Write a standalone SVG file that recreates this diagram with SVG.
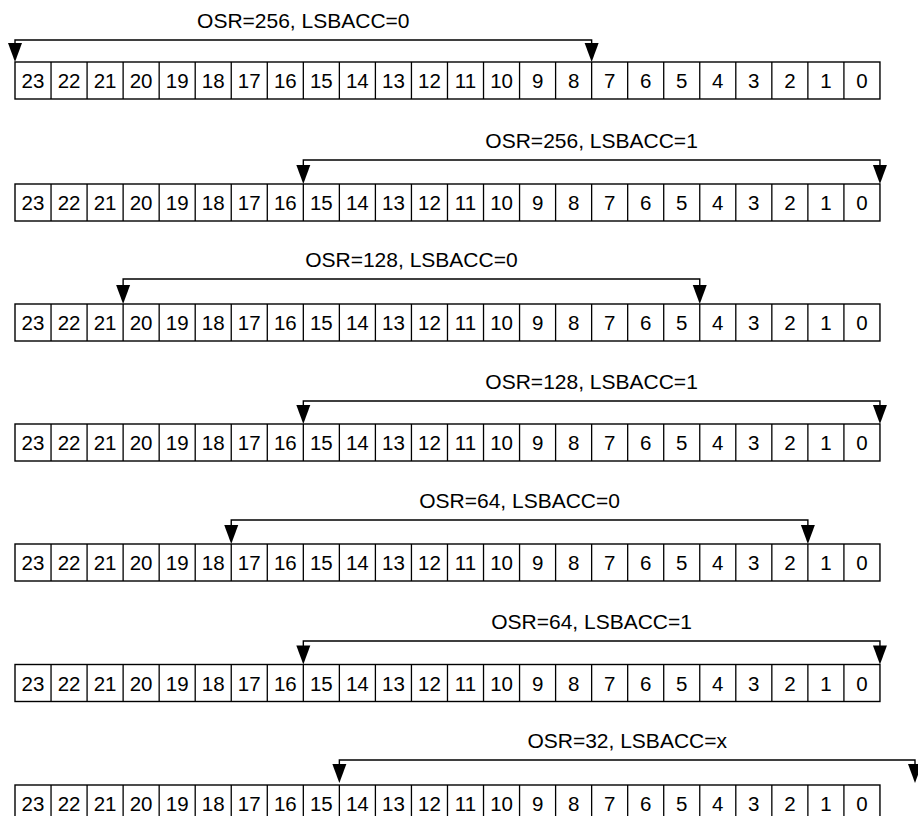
<svg xmlns="http://www.w3.org/2000/svg" width="918" height="816" viewBox="0 0 918 816">
<style>
.box{fill:#fff;stroke:#000;stroke-width:1.4}
.div{fill:none;stroke:#000;stroke-width:1.3}
.d{font-family:"Liberation Sans",Arial,sans-serif;font-size:20.5px;text-anchor:middle;fill:#000}
.lbl{font-family:"Liberation Sans",Arial,sans-serif;font-size:21px;text-anchor:middle;fill:#000}
.ln{fill:none;stroke:#000;stroke-width:1.4}
.hd{fill:#000;stroke:none}
</style>
<defs>
<path id="dv" d="M51.04 0v37M87.08 0v37M123.12 0v37M159.16 0v37M195.2 0v37M231.24 0v37M267.28 0v37M303.32 0v37M339.36 0v37M375.4 0v37M411.44 0v37M447.48 0v37M483.52 0v37M519.56 0v37M555.6 0v37M591.64 0v37M627.68 0v37M663.72 0v37M699.76 0v37M735.8 0v37M771.84 0v37M807.88 0v37M843.92 0v37"/>
<path id="ah" d="M-7,-19 L7,-19 L0,0 z"/>
</defs>

<g id="row1" transform="translate(0,62)">
<rect class="box" x="15" y="0" width="864.96" height="37"/>
<use href="#dv" class="div"/>
<text class="d" y="26"><tspan x="33.02">23</tspan><tspan x="69.06">22</tspan><tspan x="105.1">21</tspan><tspan x="141.14">20</tspan><tspan x="177.18">19</tspan><tspan x="213.22">18</tspan><tspan x="249.26">17</tspan><tspan x="285.3">16</tspan><tspan x="321.34">15</tspan><tspan x="357.38">14</tspan><tspan x="393.42">13</tspan><tspan x="429.46">12</tspan><tspan x="465.5">11</tspan><tspan x="501.54">10</tspan><tspan x="537.58">9</tspan><tspan x="573.62">8</tspan><tspan x="609.66">7</tspan><tspan x="645.7">6</tspan><tspan x="681.74">5</tspan><tspan x="717.78">4</tspan><tspan x="753.82">3</tspan><tspan x="789.86">2</tspan><tspan x="825.9">1</tspan><tspan x="861.94">0</tspan></text>
</g>

<g id="row2" transform="translate(0,184)">
<rect class="box" x="15" y="0" width="864.96" height="37"/>
<use href="#dv" class="div"/>
<text class="d" y="26"><tspan x="33.02">23</tspan><tspan x="69.06">22</tspan><tspan x="105.1">21</tspan><tspan x="141.14">20</tspan><tspan x="177.18">19</tspan><tspan x="213.22">18</tspan><tspan x="249.26">17</tspan><tspan x="285.3">16</tspan><tspan x="321.34">15</tspan><tspan x="357.38">14</tspan><tspan x="393.42">13</tspan><tspan x="429.46">12</tspan><tspan x="465.5">11</tspan><tspan x="501.54">10</tspan><tspan x="537.58">9</tspan><tspan x="573.62">8</tspan><tspan x="609.66">7</tspan><tspan x="645.7">6</tspan><tspan x="681.74">5</tspan><tspan x="717.78">4</tspan><tspan x="753.82">3</tspan><tspan x="789.86">2</tspan><tspan x="825.9">1</tspan><tspan x="861.94">0</tspan></text>
</g>

<g id="row3" transform="translate(0,304)">
<rect class="box" x="15" y="0" width="864.96" height="37"/>
<use href="#dv" class="div"/>
<text class="d" y="26"><tspan x="33.02">23</tspan><tspan x="69.06">22</tspan><tspan x="105.1">21</tspan><tspan x="141.14">20</tspan><tspan x="177.18">19</tspan><tspan x="213.22">18</tspan><tspan x="249.26">17</tspan><tspan x="285.3">16</tspan><tspan x="321.34">15</tspan><tspan x="357.38">14</tspan><tspan x="393.42">13</tspan><tspan x="429.46">12</tspan><tspan x="465.5">11</tspan><tspan x="501.54">10</tspan><tspan x="537.58">9</tspan><tspan x="573.62">8</tspan><tspan x="609.66">7</tspan><tspan x="645.7">6</tspan><tspan x="681.74">5</tspan><tspan x="717.78">4</tspan><tspan x="753.82">3</tspan><tspan x="789.86">2</tspan><tspan x="825.9">1</tspan><tspan x="861.94">0</tspan></text>
</g>

<g id="row4" transform="translate(0,424)">
<rect class="box" x="15" y="0" width="864.96" height="37"/>
<use href="#dv" class="div"/>
<text class="d" y="26"><tspan x="33.02">23</tspan><tspan x="69.06">22</tspan><tspan x="105.1">21</tspan><tspan x="141.14">20</tspan><tspan x="177.18">19</tspan><tspan x="213.22">18</tspan><tspan x="249.26">17</tspan><tspan x="285.3">16</tspan><tspan x="321.34">15</tspan><tspan x="357.38">14</tspan><tspan x="393.42">13</tspan><tspan x="429.46">12</tspan><tspan x="465.5">11</tspan><tspan x="501.54">10</tspan><tspan x="537.58">9</tspan><tspan x="573.62">8</tspan><tspan x="609.66">7</tspan><tspan x="645.7">6</tspan><tspan x="681.74">5</tspan><tspan x="717.78">4</tspan><tspan x="753.82">3</tspan><tspan x="789.86">2</tspan><tspan x="825.9">1</tspan><tspan x="861.94">0</tspan></text>
</g>

<g id="row5" transform="translate(0,544)">
<rect class="box" x="15" y="0" width="864.96" height="37"/>
<use href="#dv" class="div"/>
<text class="d" y="26"><tspan x="33.02">23</tspan><tspan x="69.06">22</tspan><tspan x="105.1">21</tspan><tspan x="141.14">20</tspan><tspan x="177.18">19</tspan><tspan x="213.22">18</tspan><tspan x="249.26">17</tspan><tspan x="285.3">16</tspan><tspan x="321.34">15</tspan><tspan x="357.38">14</tspan><tspan x="393.42">13</tspan><tspan x="429.46">12</tspan><tspan x="465.5">11</tspan><tspan x="501.54">10</tspan><tspan x="537.58">9</tspan><tspan x="573.62">8</tspan><tspan x="609.66">7</tspan><tspan x="645.7">6</tspan><tspan x="681.74">5</tspan><tspan x="717.78">4</tspan><tspan x="753.82">3</tspan><tspan x="789.86">2</tspan><tspan x="825.9">1</tspan><tspan x="861.94">0</tspan></text>
</g>

<g id="row6" transform="translate(0,664.5)">
<rect class="box" x="15" y="0" width="864.96" height="37"/>
<use href="#dv" class="div"/>
<text class="d" y="26"><tspan x="33.02">23</tspan><tspan x="69.06">22</tspan><tspan x="105.1">21</tspan><tspan x="141.14">20</tspan><tspan x="177.18">19</tspan><tspan x="213.22">18</tspan><tspan x="249.26">17</tspan><tspan x="285.3">16</tspan><tspan x="321.34">15</tspan><tspan x="357.38">14</tspan><tspan x="393.42">13</tspan><tspan x="429.46">12</tspan><tspan x="465.5">11</tspan><tspan x="501.54">10</tspan><tspan x="537.58">9</tspan><tspan x="573.62">8</tspan><tspan x="609.66">7</tspan><tspan x="645.7">6</tspan><tspan x="681.74">5</tspan><tspan x="717.78">4</tspan><tspan x="753.82">3</tspan><tspan x="789.86">2</tspan><tspan x="825.9">1</tspan><tspan x="861.94">0</tspan></text>
</g>

<g id="row7" transform="translate(0,785)">
<rect class="box" x="15" y="0" width="864.96" height="37"/>
<use href="#dv" class="div"/>
<text class="d" y="26"><tspan x="33.02">23</tspan><tspan x="69.06">22</tspan><tspan x="105.1">21</tspan><tspan x="141.14">20</tspan><tspan x="177.18">19</tspan><tspan x="213.22">18</tspan><tspan x="249.26">17</tspan><tspan x="285.3">16</tspan><tspan x="321.34">15</tspan><tspan x="357.38">14</tspan><tspan x="393.42">13</tspan><tspan x="429.46">12</tspan><tspan x="465.5">11</tspan><tspan x="501.54">10</tspan><tspan x="537.58">9</tspan><tspan x="573.62">8</tspan><tspan x="609.66">7</tspan><tspan x="645.7">6</tspan><tspan x="681.74">5</tspan><tspan x="717.78">4</tspan><tspan x="753.82">3</tspan><tspan x="789.86">2</tspan><tspan x="825.9">1</tspan><tspan x="861.94">0</tspan></text>
</g>

<g id="connectors">
<path class="ln" d="M15 50V40H591.64V50"/>
<use href="#ah" class="hd" x="15" y="62"/><use href="#ah" class="hd" x="591.64" y="62"/>
<text class="lbl" x="303.3" y="28">OSR=256, LSBACC=0</text>
<path class="ln" d="M303.32 172V160H879.96V172"/>
<use href="#ah" class="hd" x="303.32" y="184"/><use href="#ah" class="hd" x="879.96" y="184"/>
<text class="lbl" x="591.6" y="148">OSR=256, LSBACC=1</text>
<path class="ln" d="M123.12 292V279H699.76V292"/>
<use href="#ah" class="hd" x="123.12" y="304"/><use href="#ah" class="hd" x="699.76" y="304"/>
<text class="lbl" x="411.4" y="267">OSR=128, LSBACC=0</text>
<path class="ln" d="M303.32 412V401H879.96V412"/>
<use href="#ah" class="hd" x="303.32" y="424"/><use href="#ah" class="hd" x="879.96" y="424"/>
<text class="lbl" x="591.6" y="389">OSR=128, LSBACC=1</text>
<path class="ln" d="M231.24 532V520H807.88V532"/>
<use href="#ah" class="hd" x="231.24" y="544"/><use href="#ah" class="hd" x="807.88" y="544"/>
<text class="lbl" x="519.6" y="508">OSR=64, LSBACC=0</text>
<path class="ln" d="M303.32 652V641H879.96V652"/>
<use href="#ah" class="hd" x="303.32" y="664.5"/><use href="#ah" class="hd" x="879.96" y="664.5"/>
<text class="lbl" x="591.6" y="629">OSR=64, LSBACC=1</text>
<path class="ln" d="M339.36 771V760H915V771"/>
<use href="#ah" class="hd" x="339.36" y="783"/><use href="#ah" class="hd" x="915" y="783"/>
<text class="lbl" x="627.2" y="748">OSR=32, LSBACC=x</text>
</g>
</svg>
